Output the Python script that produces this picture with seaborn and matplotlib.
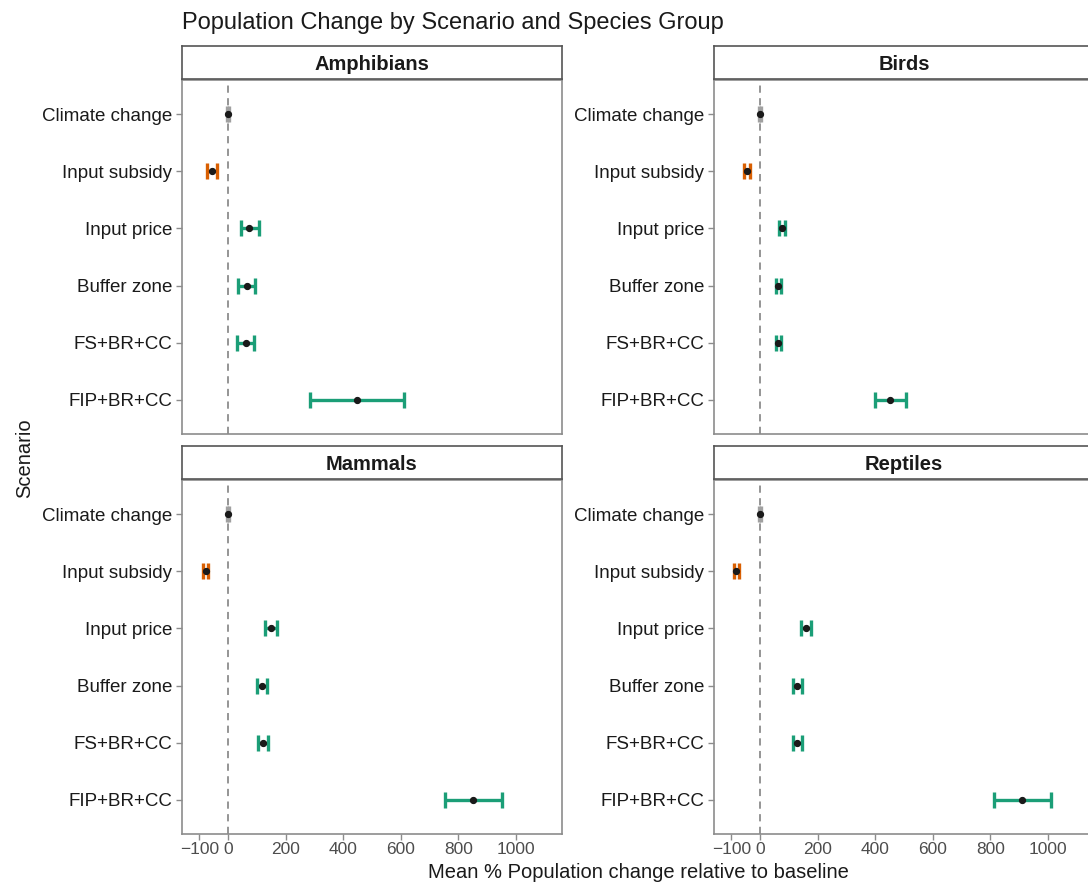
import numpy as np
import pandas as pd
import matplotlib
matplotlib.use('Agg')
import matplotlib.pyplot as plt
import seaborn as sns

species = ['Amphibians', 'Birds', 'Mammals', 'Reptiles']
scenarios = ['Climate change', 'Input subsidy', 'Input price', 'Buffer zone', 'FS+BR+CC', 'FIP+BR+CC']

amphibians_mean = [0, -57, 74, 65, 61, 449]
amphibians_lo = [-3, -74, 44, 34, 32, 286]
amphibians_hi = [3, -37, 109, 95, 91, 612]

birds_mean = [0, -45, 77, 62, 62, 453]
birds_lo = [-3, -56, 65, 54, 54, 400]
birds_hi = [3, -36, 88, 73, 73, 506]

mammals_mean = [0, -77, 148, 119, 120, 852]
mammals_lo = [-3, -86, 128, 102, 103, 755]
mammals_hi = [3, -68, 169, 135, 139, 951]

reptiles_mean = [0, -83, 159, 129, 129, 911]
reptiles_lo = [-3, -92, 141, 113, 113, 811]
reptiles_hi = [3, -74, 178, 146, 146, 1012]

x_ticks = [-100, 0, 200, 400, 600, 800, 1000]

frames = []
for sp, m, lo, hi in [('Amphibians', amphibians_mean, amphibians_lo, amphibians_hi),
                      ('Birds', birds_mean, birds_lo, birds_hi),
                      ('Mammals', mammals_mean, mammals_lo, mammals_hi),
                      ('Reptiles', reptiles_mean, reptiles_lo, reptiles_hi)]:
    frames.append(pd.DataFrame({'species': sp, 'scenario': scenarios,
                                'mean': m, 'lo': lo, 'hi': hi}))
df = pd.concat(frames, ignore_index=True)
df['effect'] = np.where(df['lo'] > 0, 'pos', np.where(df['hi'] < 0, 'neg', 'none'))
effect_colors = {'pos': '#1B9E77', 'neg': '#D95F02', 'none': '#A0A0A0'}

sns.set_style('white')
plt.rcParams['font.family'] = ['Liberation Sans', 'DejaVu Sans']

W, H = 1088, 886
fig = plt.figure(figsize=(W / 100, H / 100), dpi=100)

# panel boxes in pixels: left, top, width, height
panel_w, panel_h, strip_h = 380, 354, 33
lefts = [182, 714]
tops = [80, 480]

for i, sp in enumerate(species):
    col, row = i % 2, i // 2
    lx, ty = lefts[col], tops[row]
    ax = fig.add_axes([lx / W, 1 - (ty + panel_h) / H, panel_w / W, panel_h / H])
    sub = df[df['species'] == sp].reset_index(drop=True)

    ax.axvline(0, color='#8C8C8C', ls=(0, (4, 3)), lw=1.3, zorder=1)
    for j, r in sub.iterrows():
        ax.errorbar(r['mean'], j, xerr=[[r['mean'] - r['lo']], [r['hi'] - r['mean']]],
                    fmt='none', ecolor=effect_colors[r['effect']], elinewidth=2.4,
                    capsize=6, capthick=2.4, zorder=2)
    sns.pointplot(data=sub, x='mean', y='scenario', order=scenarios, color='#1A1A1A',
                  linestyle='none', errorbar=None, markersize=3.2, ax=ax, zorder=3)

    ax.set_xlim(-160, 1160)
    ax.set_ylim(5.6, -0.6)
    ax.set_xticks(x_ticks)
    ax.set_xticklabels([str(t).replace('-', '\u2212') for t in x_ticks] if row == 1 else [])
    ax.set_xlabel('')
    ax.set_ylabel('')
    ax.tick_params(axis='y', labelsize=13.5, labelcolor='#1A1A1A', length=4,
                   color='#8C8C8C', width=1, pad=3, left=True)
    ax.tick_params(axis='x', labelsize=12.5, labelcolor='#4D4D4D', length=4,
                   color='#8C8C8C', width=1, pad=2, bottom=(row == 1))
    for s in ax.spines.values():
        s.set_visible(True)
        s.set_color('#8C8C8C')
        s.set_linewidth(1.2)

    sax = fig.add_axes([lx / W, 1 - (ty - 1) / H, panel_w / W, strip_h / H])
    sax.set_xticks([])
    sax.set_yticks([])
    sax.set_facecolor('white')
    for s in sax.spines.values():
        s.set_visible(True)
        s.set_color('#555555')
        s.set_linewidth(1.2)
    sax.text(0.5, 0.43, sp, ha='center', va='center', fontsize=14.5,
             fontweight='bold', color='#1A1A1A', transform=sax.transAxes)

fig.text(182 / W, 1 - 23 / H, 'Population Change by Scenario and Species Group',
         ha='left', va='center', fontsize=17, color='#1A1A1A')
fig.text(25 / W, 1 - 458 / H, 'Scenario', rotation=90, ha='center', va='center',
         fontsize=14.5, color='#1A1A1A')
fig.text(638 / W, 1 - 873 / H, 'Mean % Population change relative to baseline',
         ha='center', va='center', fontsize=14.5, color='#1A1A1A')

fig.savefig('out.png', dpi=100)
